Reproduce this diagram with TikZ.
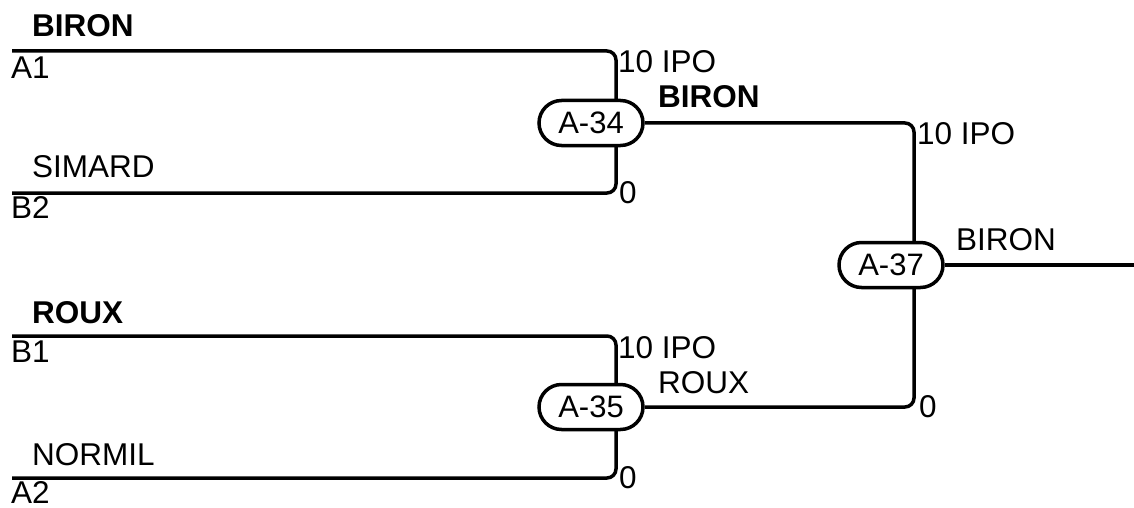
\documentclass[tikz,border=0pt]{standalone}
\usepackage{fontspec}
\setmainfont{Liberation Sans}
\usetikzlibrary{shapes.misc}
\begin{document}
\begin{tikzpicture}[x=1pt,y=-1pt,
  wire/.style={line width=3.5pt, rounded corners=9pt},
  game/.style={rounded rectangle, draw, line width=3.5pt, fill=white,
    minimum width=104pt, minimum height=45pt, inner sep=0pt,
    font=\fontsize{31}{35}\selectfont},
  lbl/.style={anchor=base west, inner sep=0pt, font=\fontsize{31.5}{36}\selectfont},
  blbl/.style={lbl, font=\fontsize{31.5}{36}\selectfont\bfseries}]
\useasboundingbox (0,0) rectangle (1134,508);
% bracket coordinates
\coordinate (a1s) at (12,51);
\coordinate (a1c) at (616,51);
\coordinate (b2c) at (616,193);
\coordinate (b2s) at (12,193);
\coordinate (b1s) at (12,336);
\coordinate (b1c) at (616,336);
\coordinate (a2c) at (616,478);
\coordinate (a2s) at (12,478);
\coordinate (t1) at (914,123);
\coordinate (t2) at (914,407);
\coordinate (out) at (1134,265);
% wires
\draw[wire] (a1s) -- (a1c) -- (b2c) -- (b2s);
\draw[wire] (b1s) -- (b1c) -- (a2c) -- (a2s);
% nodes
\node[game] (g34) at (591,123) {A-34};
\node[game] (g35) at (591,407) {A-35};
\draw[wire] (g34.east) -- (t1) -- (t2) -- (g35.east);
\node[game] (g37) at (891,265) {A-37};
\draw[line width=3.5pt] (g37.east) -- (out);
% labels
\node[blbl] (l1) at (32,37) {BIRON};
\node[lbl] (l2) at (11,79) {A1};
\node[lbl] (l3) at (32,177) {SIMARD};
\node[lbl] (l4) at (11,218) {B2};
\node[blbl] (l5) at (32,323) {ROUX};
\node[lbl] (l6) at (11,362) {B1};
\node[lbl] (l7) at (32,465) {NORMIL};
\node[lbl] (l8) at (11,503) {A2};
\node[lbl] (l9) at (618,73) {10 IPO};
\node[blbl] (l10) at (658,108) {BIRON};
\node[lbl] (l11) at (619,203) {0};
\node[lbl] (l12) at (618,358) {10 IPO};
\node[lbl] (l13) at (658,393) {ROUX};
\node[lbl] (l14) at (619,488) {0};
\node[lbl] (l15) at (917,144) {10 IPO};
\node[lbl] (l16) at (956,250) {BIRON};
\node[lbl] (l17) at (919,417) {0};
\end{tikzpicture}
\end{document}
